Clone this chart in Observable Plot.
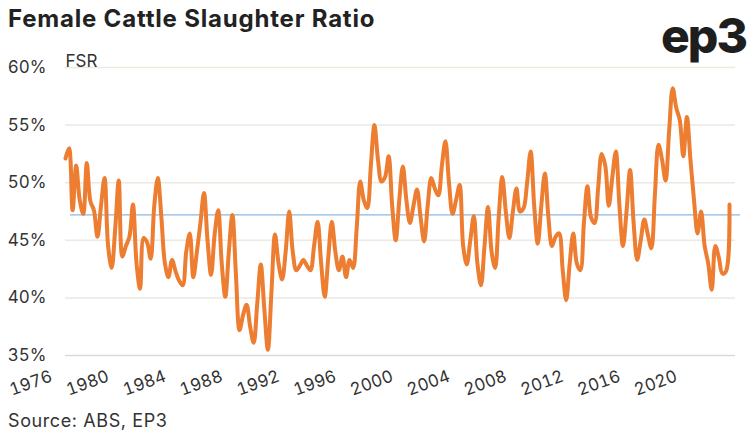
<!DOCTYPE html>
<html>
<head>
<meta charset="utf-8">
<script src="https://cdn.jsdelivr.net/npm/d3@7"></script>
<script src="https://cdn.jsdelivr.net/npm/@observablehq/plot@0.6"></script>
<style>
  html, body { margin: 0; padding: 0; background: #fff; }
  #wrap { position: relative; width: 756px; height: 440px; overflow: hidden; font-family: Inter, "Open Sans", sans-serif; color: #333; }
  #title { position: absolute; left: 8px; top: 4px; font-size: 24px; font-weight: 700; color: #222; letter-spacing: 0.8px; }
  #logo { position: absolute; right: 10px; top: 6px; font-size: 48px; font-weight: 800; color: #1e1e1e; letter-spacing: -2px; }
  #chart { position: absolute; left: 0; top: 45px; }
  #source { position: absolute; left: 8px; top: 410px; font-size: 18px; color: #333; letter-spacing: 0.6px; }
</style>
</head>
<body>
<div id="wrap">
  <div id="title">Female Cattle Slaughter Ratio</div>
  <div id="logo">ep3</div>
  <div id="chart"></div>
  <div id="source">Source: ABS, EP3</div>
</div>
<script>
// Quarterly female cattle slaughter ratio (%), 1976 Q1 onward
const startYear = 1976;
const fsr = [
  52.1, 53.0, 47.6, 51.5, 48.5, 47.3, 51.7, 48.4, 47.6, 45.3,
  48.0, 50.4, 44.5, 42.6, 46.0, 50.2, 43.6, 44.5, 45.3, 48.1,
  43.0, 40.8, 45.2, 44.8, 43.4, 48.0, 50.4, 47.0, 43.0, 41.8,
  43.3, 42.3, 41.5, 41.1, 44.0, 45.6, 41.8, 44.0, 46.5, 49.1,
  45.0, 42.0, 45.5, 47.6, 43.0, 40.1, 44.0, 47.2, 42.0, 37.2,
  38.5, 39.4, 37.5, 36.1, 39.5, 42.9, 39.0, 35.5, 40.5, 45.5,
  43.0, 41.6, 44.0, 47.5, 44.0, 42.4, 42.8, 43.3, 42.8, 42.4,
  44.5, 46.6, 43.0, 40.1, 43.5, 46.6, 44.0, 42.4, 43.6, 41.8,
  43.3, 42.6, 46.0, 50.1, 48.5, 47.8, 51.5, 55.0, 52.0, 50.1,
  50.5, 52.3, 48.0, 45.0, 48.5, 51.4, 48.5, 46.5, 48.0, 49.4,
  47.0, 44.9, 48.0, 50.4, 49.5, 48.9, 51.5, 53.6, 50.0, 47.3,
  48.5, 49.8, 44.5, 42.9, 45.0, 47.1, 43.0, 41.1, 44.5, 47.9,
  44.0, 42.6, 47.0, 50.5, 47.5, 45.2, 47.5, 49.5, 47.5, 47.8,
  50.0, 52.7, 48.0, 44.7, 48.0, 50.8, 47.0, 44.5, 45.3, 45.6,
  42.5, 39.8, 43.0, 45.6, 43.0, 42.4, 46.5, 49.7, 47.0, 46.5,
  49.5, 52.5, 51.5, 48.0, 50.5, 52.7, 48.0, 44.5, 47.5, 51.1,
  46.5, 43.3, 45.0, 46.8, 45.5, 44.3, 49.0, 53.3, 52.0, 50.2,
  54.5, 58.2, 56.5, 55.4, 52.3, 55.7, 52.0, 48.5, 45.6, 47.5,
  44.5, 43.0, 40.7, 44.5, 43.5, 42.1, 42.3, 48.1
];
const averageFSR = 47.2;
const yTicks = [35, 40, 45, 50, 55, 60];
const xTicks = [1976, 1980, 1984, 1988, 1992, 1996, 2000, 2004, 2008, 2012, 2016, 2020];
const yLabel = "FSR";

const data = fsr.map((v, i) => ({ t: startYear + i / 4, v }));

const chart = Plot.plot({
  width: 756,
  height: 360,
  marginTop: 22,
  marginBottom: 50,
  marginLeft: 65,
  marginRight: 21,
  style: { fontFamily: "Inter, 'Open Sans', sans-serif", fontSize: "17px", color: "#333", background: "transparent" },
  x: {
    domain: [startYear, startYear + (fsr.length - 1) / 4],
    range: [65, 729],
    label: null
  },
  y: {
    domain: [35, 60],
    label: null
  },
  marks: [
    Plot.ruleY(yTicks, { stroke: d => d === 35 ? "#d9d9d6" : "#ebe9e0", strokeWidth: 1.5 }),
    Plot.ruleY([averageFSR], { stroke: "#8db7e0", strokeWidth: 1.2, insetLeft: 5, insetRight: -5 }),
    Plot.line(data, { x: "t", y: "v", stroke: "#ED7D31", strokeWidth: 4, curve: "catmull-rom", strokeLinejoin: "round", strokeLinecap: "round" }),
    Plot.axisY(yTicks, { tickSize: 0, tickPadding: 19, tickFormat: d => d + "%", fontSize: 17, label: null }),
    Plot.axisX(xTicks, { tickSize: 0, tickPadding: 20, tickRotate: -20, dx: -14, tickFormat: d => String(d), fontSize: 17, label: null }),
    Plot.text([yLabel], { frameAnchor: "top-left", text: d => d, dy: -13, textAnchor: "start", fontSize: 17, fill: "#333" })
  ]
});
document.getElementById("chart").appendChild(chart);
</script>
</body>
</html>
